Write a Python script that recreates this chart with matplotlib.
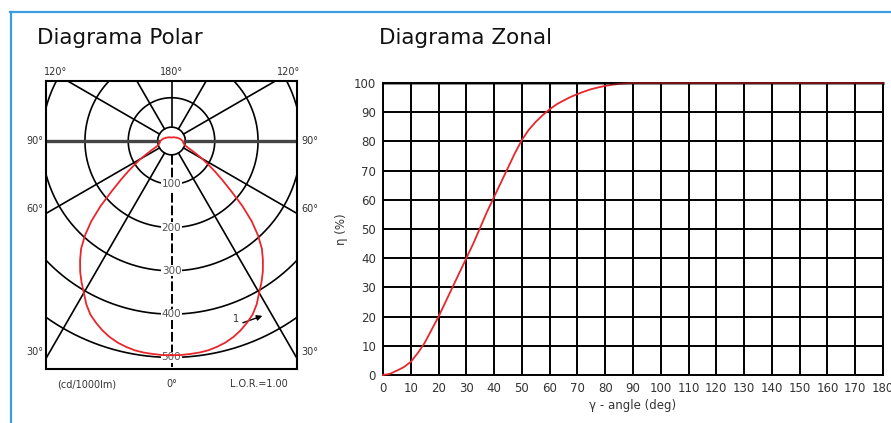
import numpy as np
import matplotlib
matplotlib.use('Agg')
import matplotlib.pyplot as plt
from matplotlib.lines import Line2D

# polar curve: gamma angle (deg from nadir) -> cd/1000lm (symmetric)
polar_angles = [0, 2.5, 5, 7.5, 10, 12.5, 15, 17.5, 20, 22.5, 25, 27.5, 30,
                32.5, 35, 37.5, 40, 42.5, 45, 47.5, 50, 52.5, 55, 57.5, 60,
                62.5, 65, 67.5, 70, 75, 80, 90, 105, 120, 150, 180]
polar_cd = [495, 495, 494, 493, 491, 487, 482, 475, 466, 455, 443, 426, 405,
            387, 368, 347, 325, 296, 262, 222, 180, 148, 122, 100, 82,
            64, 52, 42, 36, 31, 28, 26, 20, 15, 10, 8]
ring_values = [100, 200, 300, 400, 500]
spoke_angles = [30, 60, 120, 150]

# zonal flux diagram
zonal_angles = [0, 2.5, 5, 7.5, 10, 12.5, 15, 17.5, 20, 22.5, 25, 27.5, 30,
                32.5, 35, 37.5, 40, 42.5, 45, 47.5, 50, 52.5, 55, 57.5, 60,
                62.5, 65, 67.5, 70, 72.5, 75, 77.5, 80, 82.5, 85, 87.5, 90, 180]
zonal_pct = [0, 0.4, 1.5, 2.7, 4.5, 7.5, 11, 15.5, 20, 25, 30, 35, 40,
             45, 50.5, 56, 61, 66, 71, 76, 80.5, 84, 86.7, 89, 91,
             92.7, 94, 95.2, 96.2, 97.1, 97.9, 98.5, 99, 99.4, 99.7, 99.9, 100, 100]

W, H = 891, 423
RED = '#e8262b'
GRAY = '#444444'


def px(x, y):
    return x / W, 1 - y / H


fig = plt.figure(figsize=(W / 100, H / 100), dpi=100)

# blue frame
fig.add_artist(Line2D([10 / W, 1], [1 - 12 / H] * 2, color='#3d9be0', lw=1.6))
fig.add_artist(Line2D([11 / W] * 2, [0, 1 - 12 / H], color='#3d9be0', lw=1.6))

fig.text(*px(37, 38), 'Diagrama Polar', fontsize=15.5, va='center', color='#111')
fig.text(*px(379, 38), 'Diagrama Zonal', fontsize=15.5, va='center', color='#111')

# ---------------- polar diagram ----------------
ax = fig.add_axes([46 / W, (H - 369) / H, 251 / W, 288 / H])
ax.set_xlim(-290, 290)
ax.set_ylim(-526.8, 138.6)
ax.set_xticks([])
ax.set_yticks([])
for s in ax.spines.values():
    s.set_linewidth(1.5)

t = np.linspace(0, 2 * np.pi, 400)
r0 = 32
for r in [r0] + ring_values:
    ax.plot(r * np.cos(t), r * np.sin(t), color='k', lw=1.2)
for a in spoke_angles:
    rad = np.radians(a)
    for sgn in (-1, 1):
        ax.plot([sgn * r0 * np.sin(rad), sgn * 900 * np.sin(rad)],
                [-r0 * np.cos(rad), -900 * np.cos(rad)], color='k', lw=1.2)
ax.plot([0, 0], [r0, 300], color='k', lw=1.2)
ax.plot([r0, 400], [0, 0], color=GRAY, lw=2.4)
ax.plot([-r0, -400], [0, 0], color=GRAY, lw=2.4)
ax.plot([0, 0], [-r0, -700], color='k', lw=1.4, ls=(0, (5, 1.5)))
for v in ring_values:
    ax.text(0, -v, str(v), ha='center', va='center', fontsize=7.5, color='#555',
            bbox=dict(facecolor='white', edgecolor='none', pad=0.4))

ang = np.radians(polar_angles)
cd = np.array(polar_cd)
xs = np.concatenate([-cd * np.sin(ang), (cd * np.sin(ang))[::-1]])
ys = np.concatenate([-cd * np.cos(ang), (-cd * np.cos(ang))[::-1]])
ax.plot(xs, ys, color=RED, lw=1.3, zorder=5)

ax.text(148, -412, '1', fontsize=7, ha='center', va='center', color='#333')
ax.annotate('', xy=(210, -404), xytext=(165, -420),
            arrowprops=dict(arrowstyle='-|>', color='k', lw=1.0,
                            mutation_scale=8, shrinkA=0, shrinkB=0))

lab = dict(fontsize=7, color='#333', va='center')
fig.text(*px(56, 72), '120°', ha='center', **lab)
fig.text(*px(172, 72), '180°', ha='center', **lab)
fig.text(*px(289, 72), '120°', ha='center', **lab)
for yy, txt in [(141, '90°'), (209, '60°'), (352, '30°')]:
    fig.text(*px(43, yy), txt, ha='right', **lab)
    fig.text(*px(301, yy), txt, ha='left', **lab)
fig.text(*px(87, 384), '(cd/1000lm)', ha='center', **lab)
fig.text(*px(172, 384), '0°', ha='center', **lab)
fig.text(*px(259, 384), 'L.O.R.=1.00', ha='center', **lab)

# ---------------- zonal diagram ----------------
az = fig.add_axes([383 / W, (H - 375) / H, 500 / W, 292 / H])
az.set_xlim(0, 180)
az.set_ylim(0, 100)
az.set_xticks(range(0, 181, 10))
az.set_yticks(range(0, 101, 10))
az.grid(True, color='k', lw=1.4)
az.set_axisbelow(True)
az.tick_params(length=0, pad=5, labelsize=8.5, labelcolor='#333')
for s in az.spines.values():
    s.set_linewidth(1.4)
az.plot(zonal_angles, zonal_pct, color=RED, lw=1.3, zorder=3, clip_on=False)
az.axhline(100, color='k', alpha=0.45, lw=2.2, zorder=4, clip_on=False)
az.set_xlabel('γ - angle (deg)', fontsize=8.5, color='#333', labelpad=3)
az.set_ylabel('η (%)', fontsize=8.5, color='#333', labelpad=4)

fig.savefig('out.png', dpi=100)
